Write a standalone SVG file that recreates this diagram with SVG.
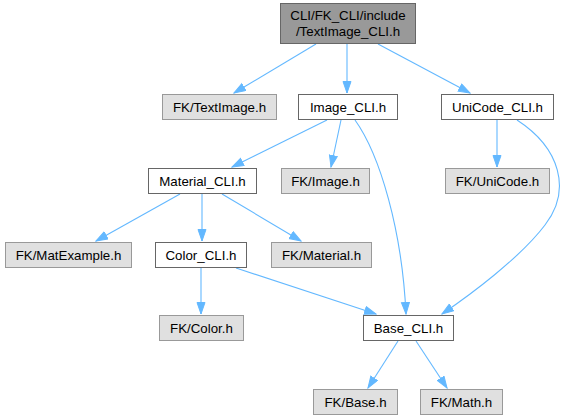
<svg xmlns="http://www.w3.org/2000/svg" width="571" height="420" viewBox="0 0 571 420">
<defs>
<style>
.n rect{stroke-width:1}
.root rect{fill:#999999;stroke:#666666}
.int rect{fill:#ffffff;stroke:#666666}
.ext rect{fill:#e0e0e0;stroke:#999999}
text{font-family:"Liberation Sans",Arial,Helvetica,sans-serif;font-size:13.3px;fill:#000;text-anchor:middle}
.e path{fill:none;stroke:#63b8ff;stroke-width:1.1;marker-end:url(#ah)}
</style>
<marker id="ah" markerUnits="userSpaceOnUse" markerWidth="13" markerHeight="10" refX="12" refY="4.5" orient="auto">
<path d="M0.5,0.5 L12,4.5 L0.5,8.5 Z" fill="#63b8ff" stroke="#63b8ff"/>
</marker>
</defs>
<rect width="571" height="420" fill="#ffffff"/>
<g class="e" id="edges">
<path d="M316,44 L234,93"/>
<path d="M347,44 L347,93"/>
<path d="M378,44 L470,93"/>
<path d="M327,120 L232,167"/>
<path d="M341,120 L331,167"/>
<path d="M355,120 C380,155 402,230 406,314"/>
<path d="M497,120 L497,167"/>
<path d="M517,120 C560,148 572,190 545,225 C520,258 470,295 442,314"/>
<path d="M180,194 L96,241"/>
<path d="M202,194 L202,241"/>
<path d="M222,194 L301,241"/>
<path d="M201,268 L201,314"/>
<path d="M236,268 L376,314"/>
<path d="M398,341 L368,388"/>
<path d="M416,341 L447,388"/>
</g>
<g id="n_root" class="n root"><rect x="280.5" y="3.5" width="135" height="40"/><text x="348" y="20">CLI/FK_CLI/include</text><text x="348" y="36">/TextImage_CLI.h</text></g>
<g id="n_fk_textimage" class="n ext"><rect x="162.5" y="94.5" width="114" height="25"/><text x="219.5" y="111.5">FK/TextImage.h</text></g>
<g id="n_image_cli" class="n int"><rect x="298.5" y="94.5" width="99" height="25"/><text x="348" y="111.5">Image_CLI.h</text></g>
<g id="n_unicode_cli" class="n int"><rect x="441.5" y="94.5" width="112" height="25"/><text x="497.5" y="111.5">UniCode_CLI.h</text></g>
<g id="n_material_cli" class="n int"><rect x="148.5" y="168.5" width="108" height="25"/><text x="202.5" y="185.5">Material_CLI.h</text></g>
<g id="n_fk_image" class="n ext"><rect x="281.5" y="168.5" width="88" height="25"/><text x="325.5" y="185.5">FK/Image.h</text></g>
<g id="n_fk_unicode" class="n ext"><rect x="445.5" y="168.5" width="104" height="25"/><text x="497.5" y="185.5">FK/UniCode.h</text></g>
<g id="n_fk_matexample" class="n ext"><rect x="5.5" y="242.5" width="126" height="25"/><text x="68.5" y="259.5">FK/MatExample.h</text></g>
<g id="n_color_cli" class="n int"><rect x="155.5" y="242.5" width="91" height="25"/><text x="201" y="259.5">Color_CLI.h</text></g>
<g id="n_fk_material" class="n ext"><rect x="271.5" y="242.5" width="100" height="25"/><text x="321.5" y="259.5">FK/Material.h</text></g>
<g id="n_fk_color" class="n ext"><rect x="159.5" y="315.5" width="84" height="25"/><text x="201.5" y="332.5">FK/Color.h</text></g>
<g id="n_base_cli" class="n int"><rect x="363.5" y="315.5" width="90" height="25"/><text x="408.5" y="332.5">Base_CLI.h</text></g>
<g id="n_fk_base" class="n ext"><rect x="313.5" y="389.5" width="84" height="25"/><text x="355.5" y="406.5">FK/Base.h</text></g>
<g id="n_fk_math" class="n ext"><rect x="420.5" y="389.5" width="82" height="25"/><text x="461.5" y="406.5">FK/Math.h</text></g>
</svg>
